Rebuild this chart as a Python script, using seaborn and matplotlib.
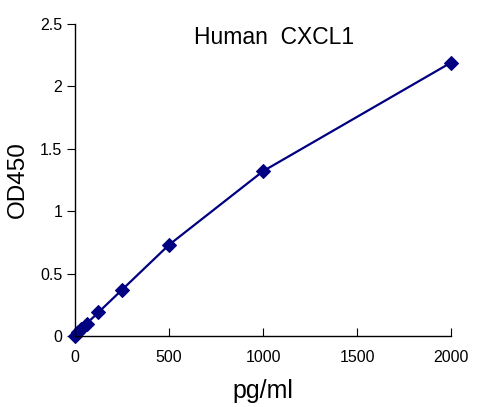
import matplotlib
matplotlib.use("Agg")
import matplotlib.pyplot as plt
import seaborn as sns
import pandas as pd

# standard curve data
conc = [0, 15.6, 31.25, 62.5, 125, 250, 500, 1000, 2000]
od450 = [0.0, 0.03, 0.06, 0.10, 0.19, 0.37, 0.73, 1.32, 2.19]

df = pd.DataFrame({"pg/ml": conc, "OD450": od450})

sns.set_style("ticks")
plt.rcParams["font.family"] = ["Liberation Sans", "DejaVu Sans"]

fig = plt.figure(figsize=(4.91, 4.07), dpi=100)
ax = fig.add_axes([0.1527, 0.1744, 0.766, 0.767])

sns.lineplot(data=df, x="pg/ml", y="OD450", ax=ax, color="#000080",
             linewidth=1.6, marker="D", markersize=7,
             markeredgecolor="#000080", markerfacecolor="#000080")

ax.set_xlim(0, 2000)
ax.set_ylim(0, 2.5)
ax.set_xticks([0, 500, 1000, 1500, 2000])
ax.set_yticks([0, 0.5, 1, 1.5, 2, 2.5])
ax.set_yticklabels(["0", "0.5", "1", "1.5", "2", "2.5"])
ax.tick_params(axis="x", direction="in", length=6, labelsize=11.5, pad=10,
               colors="black")
ax.tick_params(axis="y", direction="out", length=6, labelsize=11.5, pad=3,
               colors="black")
for s in ["top", "right"]:
    ax.spines[s].set_visible(False)
for s in ["left", "bottom"]:
    ax.spines[s].set_color("black")
    ax.spines[s].set_linewidth(1)

ax.set_xlabel("pg/ml", fontsize=18, labelpad=10, color="black")
ax.set_ylabel("OD450", fontsize=17.5, labelpad=8, color="black")
ax.text(0.53, 0.955, "Human  CXCL1", transform=ax.transAxes, ha="center",
        va="center", fontsize=16.5, color="black")

for line in ax.lines:
    line.set_clip_on(False)

fig.savefig("out.png", dpi=100)
